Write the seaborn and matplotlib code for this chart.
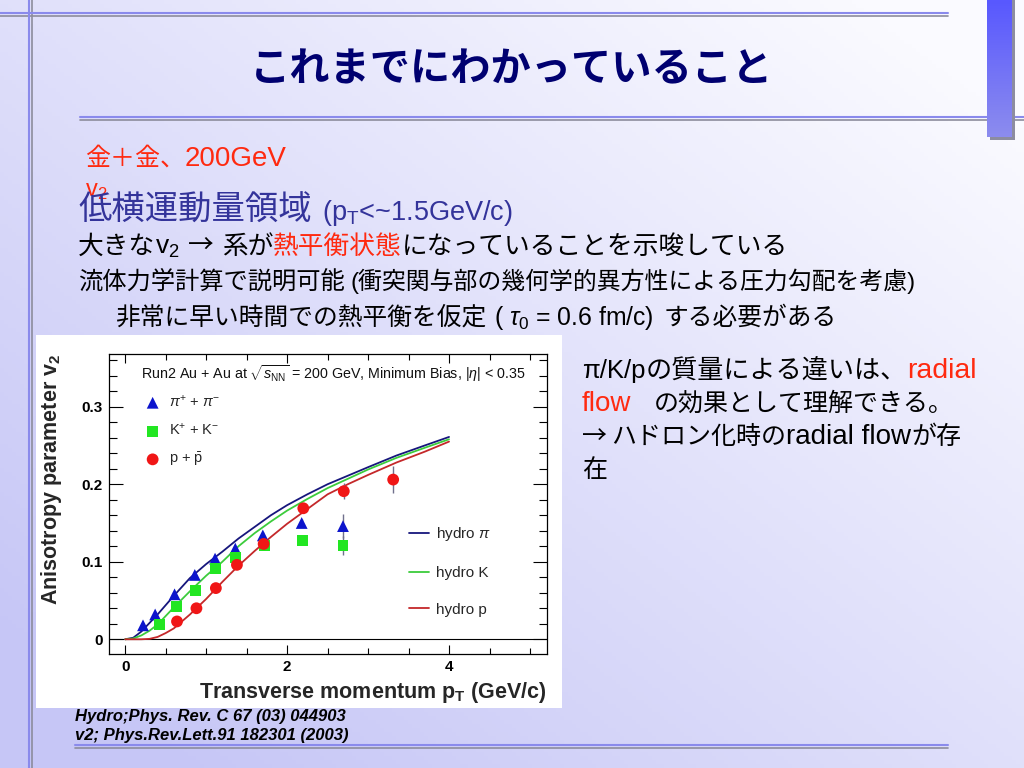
import matplotlib
matplotlib.use("Agg")

import numpy as np
import matplotlib.pyplot as plt
import seaborn as sns
from matplotlib.patches import Rectangle
from matplotlib.lines import Line2D
from matplotlib.ticker import MultipleLocator


# measured v2, Au+Au 200 GeV minimum bias
pion_pt = [0.22, 0.37, 0.61, 0.86, 1.11, 1.36, 1.70, 2.18, 2.69]
pion_v2 = [0.018, 0.032, 0.058, 0.083, 0.104, 0.117, 0.134, 0.150, 0.146]
pion_err = [0, 0, 0, 0, 0, 0, 0.004, 0.005, 0.015]

kaon_pt = [0.42, 0.63, 0.87, 1.11, 1.36, 1.72, 2.19, 2.69]
kaon_v2 = [0.019, 0.042, 0.063, 0.091, 0.106, 0.121, 0.127, 0.121]
kaon_err = [0, 0, 0, 0, 0, 0.003, 0.005, 0.012]

proton_pt = [0.64, 0.88, 1.12, 1.38, 1.71, 2.20, 2.70, 3.31]
proton_v2 = [0.023, 0.040, 0.066, 0.096, 0.123, 0.169, 0.191, 0.206]
proton_err = [0, 0, 0, 0, 0.003, 0.004, 0.010, 0.017]

# hydro calculation
hydro_pt = [0, 0.1, 0.2, 0.3, 0.4, 0.5, 0.6, 0.8, 1.0, 1.2, 1.4, 1.6, 1.8,
            2.0, 2.25, 2.5, 2.75, 3.0, 3.35, 3.7, 4.0]
hydro_pi = [0, 0.002, 0.010, 0.021, 0.032, 0.044, 0.056, 0.079, 0.097, 0.113,
            0.130, 0.145, 0.160, 0.173, 0.187, 0.200, 0.211, 0.222, 0.237,
            0.250, 0.261]
hydro_k = [0, 0.001, 0.005, 0.011, 0.019, 0.030, 0.041, 0.062, 0.082, 0.100,
           0.120, 0.137, 0.152, 0.166, 0.181, 0.195, 0.207, 0.219, 0.234,
           0.247, 0.258]
hydro_p = [0, 0, 0, 0.0005, 0.003, 0.008, 0.014, 0.032, 0.052, 0.074, 0.095,
           0.114, 0.132, 0.149, 0.168, 0.187, 0.200, 0.212, 0.228, 0.242,
           0.255]

x_ticks = [0, 2, 4]
y_ticks = [0, 0.1, 0.2, 0.3]
y_ticklabels = ["0", "0.1", "0.2", "0.3"]

W, H = 1024, 768

sns.set_style("ticks")
plt.rcParams["font.family"] = ["Liberation Sans", "Noto Sans CJK JP", "DejaVu Sans"]
plt.rcParams["mathtext.fontset"] = "custom"
plt.rcParams["mathtext.rm"] = "Liberation Sans"
plt.rcParams["mathtext.it"] = "Liberation Sans:italic"
plt.rcParams["mathtext.bf"] = "Liberation Sans:bold"

JP = ["Liberation Sans", "Noto Sans CJK JP"]
RED = "#ff2a10"
BLUE_TXT = "#33339a"

fig = plt.figure(figsize=(W / 100, H / 100), dpi=100)

# slide background
bg = fig.add_axes([0, 0, 1, 1], zorder=-10)
gx, gy = np.meshgrid(np.linspace(0, 1, 256), np.linspace(0, 1, 192))
wgt = np.clip((gy - gx) * 0.6 + 0.5, 0, 1)[..., None]
white = np.array([250, 250, 255]) / 255
lav = np.array([198, 198, 246]) / 255
bg.imshow(white * (1 - wgt) + lav * wgt, aspect="auto", extent=[0, W, H, 0])
bg.set_xlim(0, W)
bg.set_ylim(H, 0)
bg.axis("off")


def fx(px):
    return px / W


def fy(py):
    return 1 - py / H


def hline(x0, x1, y):
    fig.add_artist(Line2D([fx(x0), fx(x1)], [fy(y), fy(y)], color="#8a8aec",
                          lw=1.5, zorder=-4))
    fig.add_artist(Line2D([fx(x0), fx(x1)], [fy(y + 2.5), fy(y + 2.5)],
                          color="#8c8c9c", lw=1.2, zorder=-4.5))


hline(0, 948, 13)
hline(80, W, 117)
hline(75, 948, 745)
fig.add_artist(Line2D([fx(29), fx(29)], [0, 1], color="#8a8aec", lw=1.5, zorder=-4))
fig.add_artist(Line2D([fx(31.5), fx(31.5)], [0, 1], color="#8c8c9c", lw=1.2, zorder=-4.5))

# right-hand bar
fig.add_artist(Rectangle((fx(990), fy(140)), 25 / W, 140 / H, transform=fig.transFigure,
                         facecolor="#8c8ca0", edgecolor="none", zorder=-3))
bar = fig.add_axes([fx(987), fy(137), 25 / W, 137 / H], zorder=-2)
bgrad = np.linspace(0, 1, 64)[:, None, None]
bar.imshow(np.array([88, 88, 255]) / 255 * (1 - bgrad) + np.array([140, 140, 238]) / 255 * bgrad,
           aspect="auto")
bar.axis("off")

# white panel behind the chart
fig.add_artist(Rectangle((fx(36), fy(708)), 526 / W, 373 / H, transform=fig.transFigure,
                         facecolor="white", edgecolor="none", zorder=-1))

# ---- chart ----
ax = fig.add_axes([fx(109), fy(654), 438 / W, 300 / H], zorder=1)
ax.set_facecolor("white")

sns.lineplot(x=hydro_pt, y=hydro_pi, color="#16167c", lw=1.3, ax=ax, label="hydro $\\pi$")
sns.lineplot(x=hydro_pt, y=hydro_k, color="#3ccc3c", lw=1.3, ax=ax, label="hydro K")
sns.lineplot(x=hydro_pt, y=hydro_p, color="#c4282a", lw=1.3, ax=ax, label="hydro p")

for pt, v2, err in [(pion_pt, pion_v2, pion_err), (kaon_pt, kaon_v2, kaon_err),
                    (proton_pt, proton_v2, proton_err)]:
    ax.errorbar(pt, v2, yerr=err, fmt="none", ecolor="#70708c", elinewidth=1, zorder=2)

sns.scatterplot(x=pion_pt, y=pion_v2, marker="^", s=72, color="#0c14cc",
                edgecolor="none", ax=ax, zorder=3, label="$\\pi^{+}$ + $\\pi^{-}$")
sns.scatterplot(x=kaon_pt, y=kaon_v2, marker="s", s=62, color="#22e622",
                edgecolor="none", ax=ax, zorder=3, label="K$^{+}$ + K$^{-}$")
sns.scatterplot(x=proton_pt, y=proton_v2, marker="o", s=72, color="#f01616",
                edgecolor="none", ax=ax, zorder=3, label="p + $\\bar{\\mathrm{p}}$")

ax.axhline(0, color="black", lw=0.8, zorder=1)
ax.set_xlim(-0.2, 5.21)
ax.set_ylim(-0.019, 0.368)

handles, labels = ax.get_legend_handles_labels()
leg1 = ax.legend(handles[3:], labels[3:], loc="upper left", bbox_to_anchor=(0.083, 0.868),
                 frameon=False, fontsize=10.5, handlelength=1.0, handletextpad=0.6,
                 labelspacing=0.85, borderpad=0, borderaxespad=0)
ax.add_artist(leg1)
ax.legend(handles[:3], labels[:3], loc="upper left", bbox_to_anchor=(0.685, 0.43),
          frameon=False, fontsize=11, handlelength=1.3, handletextpad=0.45,
          labelspacing=1.5, borderpad=0, borderaxespad=0)

ax.text(0.073, 0.917, "Run2 Au + Au at $\\sqrt{s_{\\mathrm{NN}}}$ = 200 GeV, Minimum Bias, |$\\eta$| < 0.35",
        transform=ax.transAxes, fontsize=10.3, va="baseline", ha="left", color="#111111")

ax.set_xticks(x_ticks)
ax.set_xticklabels([str(t) for t in x_ticks])
ax.set_yticks(y_ticks)
ax.set_yticklabels(y_ticklabels)
ax.xaxis.set_minor_locator(MultipleLocator(0.5))
ax.yaxis.set_minor_locator(MultipleLocator(0.02))
ax.tick_params(which="both", direction="in", top=True, right=True, width=0.8, colors="black")
ax.tick_params(axis="y", which="major", length=10, pad=4.5, labelsize=11)
ax.tick_params(axis="y", which="minor", length=5.5)
ax.tick_params(axis="x", which="major", length=6.5, pad=4, labelsize=11)
ax.tick_params(axis="x", which="minor", length=4.5)
for lab in ax.get_xticklabels() + ax.get_yticklabels():
    lab.set_fontweight("bold")
for sp in ax.spines.values():
    sp.set_linewidth(0.9)
    sp.set_color("black")

ax.set_ylabel("Anisotropy parameter v$_\\mathbf{2}$", loc="top", fontsize=15.5, fontweight="bold")
ax.yaxis.set_label_coords(-0.103, 1.0)
ax.set_xlabel("Transverse momentum p$_\\mathbf{T}$ (GeV/c)", loc="right", fontsize=15.5,
              fontweight="bold")
ax.xaxis.set_label_coords(1.0, -0.088)

# ---- slide text ----
renderer = fig.canvas.get_renderer()


def put_line(x, y, parts):
    for p in parts:
        if isinstance(p, (int, float)):
            x += p
            continue
        s, kw = p
        t = fig.text(fx(x), fy(y), s, ha="left", va="baseline", **kw)
        x += t.get_window_extent(renderer).width


def cjk(size, color="black", **kw):
    return dict(family=JP, fontsize=size, color=color, **kw)


def lat(size, color="black", **kw):
    return dict(family="Liberation Sans", fontsize=size, color=color, **kw)


fig.text(0.5, fy(70), "これまでにわかっていること", ha="center", va="center",
         family="Noto Sans CJK JP", fontweight="bold", fontsize=29, color="#000070")

put_line(85, 166, [("金＋金、", cjk(18, RED)), ("200GeV", lat(20, RED))])
# the reference has this v2 half hidden under the next line
put_line(85, 196, [("v$_2$", lat(17, RED, zorder=2))])
put_line(78, 220, [("低横運動量領域", cjk(24, BLUE_TXT, zorder=4)), 10,
                   ("(p$_\\mathrm{T}$<~1.5GeV/c)", lat(19.5, BLUE_TXT, zorder=4))])
put_line(78, 254, [("大きな", cjk(18.5)), ("v$_2$", lat(19)), 8,
                   ("→", dict(family="Noto Sans CJK JP", fontsize=18.5, color="black")), 8,
                   ("系が", cjk(18.5)), ("熱平衡状態", cjk(18.5, RED)),
                   ("になっていることを示唆している", cjk(18.5))])
put_line(78, 289, [("流体力学計算で説明可能", cjk(17.5)), 6,
                   ("(衝突関与部の幾何学的異方性による圧力勾配を考慮)", cjk(17.2))])
put_line(115, 325, [("非常に早い時間での熱平衡を仮定", cjk(17.8)), 8,
                    ("( $\\tau_0$ = 0.6 fm/c)", lat(17.8)), 10,
                    ("する必要がある", cjk(17.8))])

put_line(582, 378, [("π/K/p", lat(18.5)), ("の質量による違いは、", cjk(18.8)),
                    ("radial", lat(20.5, RED))])
put_line(582, 411, [("flow", lat(20, RED)), 22, ("の効果として理解できる。", cjk(18))])
put_line(582, 444, [("→", dict(family="Noto Sans CJK JP", fontsize=18, color="black")), 4,
                    ("ハドロン化時の", cjk(18)), ("radial flow", lat(20)), ("が存", cjk(18))])
put_line(582, 477, [("在", cjk(18))])

cite = dict(family="Liberation Sans", fontsize=12, fontweight="bold", fontstyle="italic",
            color="black")
put_line(75, 721, [("Hydro;Phys. Rev. C 67 (03) 044903", cite)])
put_line(75, 740, [("v2; Phys.Rev.Lett.91 182301 (2003)", cite)])

fig.savefig("out.png", dpi=100)
